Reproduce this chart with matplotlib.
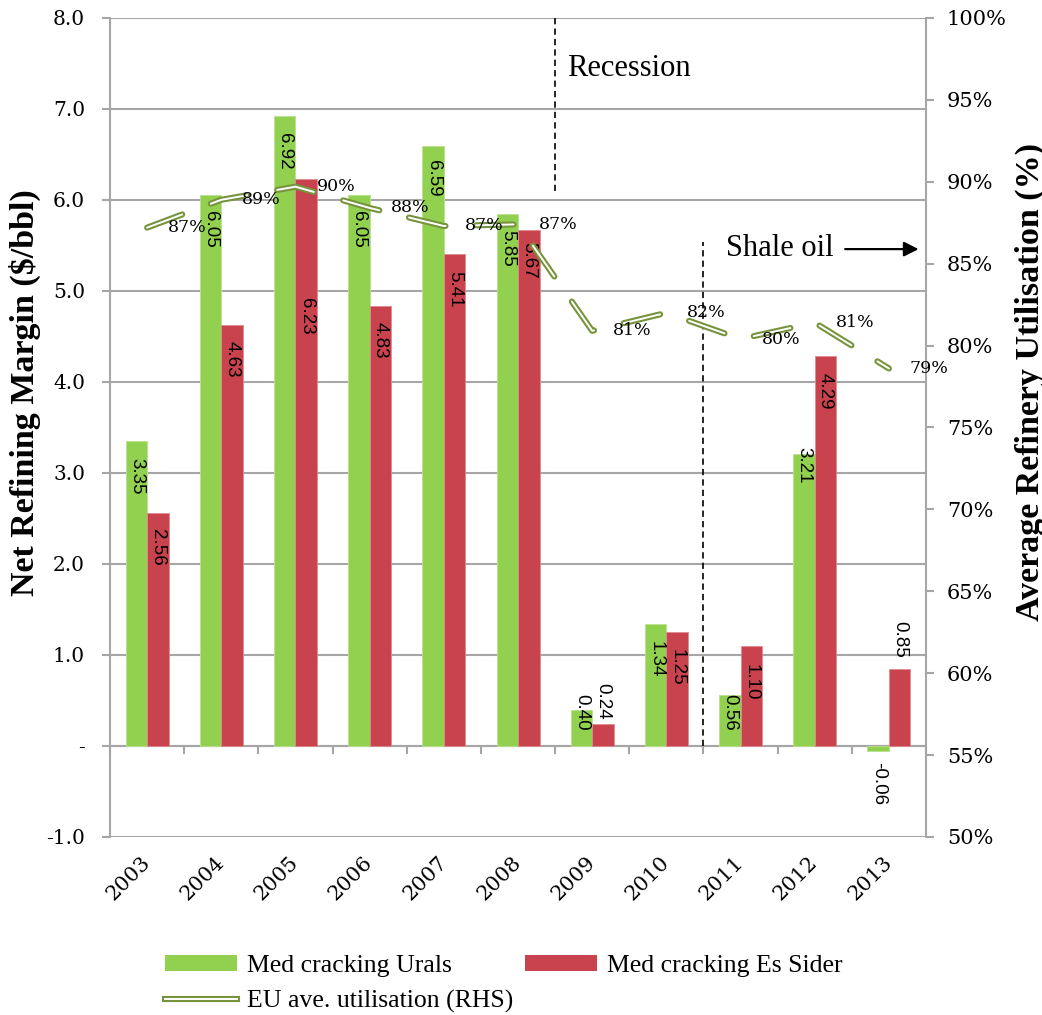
import numpy as np
import matplotlib
matplotlib.use("Agg")
import matplotlib.pyplot as plt
from matplotlib.patches import Patch
from matplotlib.lines import Line2D
from matplotlib.ticker import FuncFormatter

plt.rcParams['lines.scale_dashes'] = False

years = ['2003', '2004', '2005', '2006', '2007', '2008',
         '2009', '2010', '2011', '2012', '2013']
urals = [3.35, 6.05, 6.92, 6.05, 6.59, 5.85, 0.40, 1.34, 0.56, 3.21, -0.06]
es_sider = [2.56, 4.63, 6.23, 4.83, 5.41, 5.67, 0.24, 1.25, 1.10, 4.29, 0.85]
utilisation = [87.2, 88.9, 89.7, 88.4, 87.3, 87.4, 80.9, 82.0, 80.4, 81.4, 78.6]

# where each value label starts, in pixels below the end of its bar
urals_shift = [17, 16, 17, 16, 14, 16, -16, 17, -1, -7, 11]
sider_shift = [16, 16, 119, 16, 17, 12, -41, 17, 18, 17, -48]

GREEN = '#92D050'
RED = '#C8434D'
OLIVE = '#77933C'
GREY = '#A6A6A6'
SERIF = 'Liberation Serif'
TICKFONT = 'DejaVu Serif'

fig = plt.figure(figsize=(10.42, 10.15), dpi=100)
ax = fig.add_axes([0.1056, 0.1754, 0.7831, 0.8069])

x = np.arange(len(years))
w = 0.29
ymin, ymax = -1.0, 8.0

ax.bar(x - w / 2, urals, w, color=GREEN, edgecolor='#B9E18F', linewidth=0.6, zorder=2)
ax.bar(x + w / 2, es_sider, w, color=RED, edgecolor='#E08A90', linewidth=0.6, zorder=2)

ax.set_xlim(-0.5, len(years) - 0.5)
ax.set_ylim(ymin, ymax)
ax.set_yticks(np.arange(-1, 8.01, 1))
ax.yaxis.set_major_formatter(FuncFormatter(lambda v, p: '-' if abs(v) < 1e-9 else f'{v:.1f}'))
ax.grid(axis='y', color=GREY, linewidth=1.5)
ax.set_axisbelow(True)
ax.tick_params(axis='y', direction='out', length=6, width=1.5, color=GREY,
               labelsize=14.5, pad=12)
for lab in ax.get_yticklabels():
    lab.set_family(TICKFONT)

ax.set_xticks(x)
ax.set_xticklabels(years, rotation=45, ha='right', va='center',
                   rotation_mode='anchor', family=TICKFONT, fontsize=15)
ax.tick_params(axis='x', length=0, pad=16)

for side in ['top', 'right', 'bottom']:
    ax.spines[side].set_visible(False)
ax.spines['left'].set_color(GREY)
ax.spines['left'].set_linewidth(1.5)

# category axis crossing at zero, ticks between the years
zero_axis = ax.secondary_xaxis((0 - ymin) / (ymax - ymin))
zero_axis.set_xticks(np.arange(-0.5, len(years), 1.0))
zero_axis.tick_params(axis='x', length=6, width=1.5, color=GREY, labelbottom=False,
                      labeltop=False)
zero_axis.spines['bottom'].set_color(GREY)
zero_axis.spines['bottom'].set_linewidth(1.5)
zero_axis.spines['top'].set_visible(False)

ax.set_ylabel('Net Refining Margin ($/bbl)', family=SERIF, fontweight='bold', fontsize=24.5)
ax.yaxis.set_label_coords(-0.0846, 0.543)

# value labels, written down the bars
px = 72 / fig.dpi
for xs, vals, shifts in [(x - w / 2, urals, urals_shift), (x + w / 2, es_sider, sider_shift)]:
    for xi, v, s in zip(xs, vals, shifts):
        ax.annotate(f'{v:.2f}', (xi, v), xytext=(0, -s * px), textcoords='offset points',
                    rotation=270, ha='center', va='top', fontsize=13.5,
                    family='Liberation Sans', zorder=5)

# utilisation line on the right-hand scale
ax2 = ax.twinx()
ax2.set_ylim(50, 100)
ax2.set_yticks(np.arange(50, 100.1, 5))
ax2.yaxis.set_major_formatter(FuncFormatter(lambda v, p: f'{v:.0f}%'))
ax2.tick_params(axis='y', direction='out', length=6, width=1.5, color=GREY,
                labelsize=15, pad=9)
for lab in ax2.get_yticklabels():
    lab.set_family(TICKFONT)
for side in ['top', 'left', 'bottom']:
    ax2.spines[side].set_visible(False)
ax2.spines['right'].set_color(GREY)
ax2.spines['right'].set_linewidth(1.5)

dash = (27, 22)
ax2.plot(x, utilisation, color=OLIVE, linewidth=4.4, dashes=dash,
         dash_capstyle='round', solid_joinstyle='round', zorder=3)
ax2.plot(x, utilisation, color='white', linewidth=1.4, dashes=dash,
         dash_capstyle='round', solid_joinstyle='round', zorder=4)
for xi, v in zip(x, utilisation):
    ax2.annotate(f'{v:.0f}%', (xi, v), xytext=(29, 0), textcoords='offset points',
                 ha='center', va='center', fontsize=12.5, family=TICKFONT, zorder=5)

ax2.set_ylabel('Average Refinery Utilisation (%)', family=SERIF, fontweight='bold',
               fontsize=24.5, rotation=90)
ax2.yaxis.set_label_coords(1.109, 0.556)

# period markers
ax.plot([5.5, 5.5], [6.1, ymax], color='black', linewidth=1.2, dashes=(4.5, 3))
ax.text(5.66, 7.45, 'Recession', family=SERIF, fontsize=22, va='center')
ax.plot([7.5, 7.5], [0, 5.54], color='black', linewidth=1.2, dashes=(4.5, 3))
ax.text(7.80, 5.47, 'Shale oil', family=SERIF, fontsize=22, va='center')
ax.annotate('', xy=(10.4, 5.46), xytext=(9.41, 5.46),
            arrowprops=dict(arrowstyle='-|>', color='black', lw=1.6, mutation_scale=22,
                            shrinkA=0, shrinkB=0))

handles = [
    Patch(facecolor=GREEN),
    (Line2D([], [], color=OLIVE, linewidth=4.4), Line2D([], [], color='white', linewidth=1.4)),
    Patch(facecolor=RED),
]
labels = ['Med cracking Urals', 'EU ave. utilisation (RHS)', 'Med cracking Es Sider']
fig.legend(handles, labels, ncol=2, loc='upper left', bbox_to_anchor=(0.146, 0.072),
           frameon=False, prop={'family': SERIF, 'size': 18.5}, borderpad=0,
           handlelength=2.8, handleheight=0.6, handletextpad=0.4,
           columnspacing=0.45, labelspacing=0.5)

fig.savefig('out.png', dpi=100)
